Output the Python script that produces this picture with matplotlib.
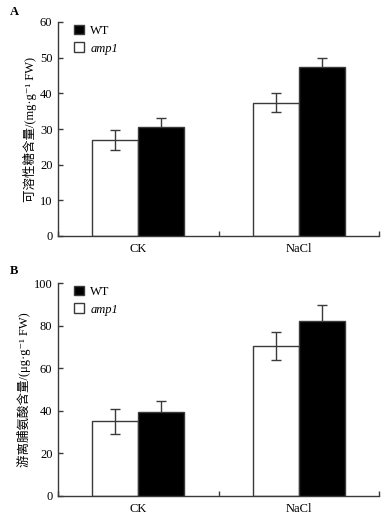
import matplotlib
matplotlib.use("Agg")
import matplotlib.pyplot as plt
from matplotlib.patches import Patch
import numpy as np

categories = ["CK", "NaCl"]
series = ["WT", "amp1"]

sugar_amp1 = [26.9, 37.4]
sugar_amp1_err = [2.7, 2.7]
sugar_wt = [30.7, 47.5]
sugar_wt_err = [2.3, 2.5]

pro_amp1 = [35.0, 70.5]
pro_amp1_err = [6.0, 6.7]
pro_wt = [39.3, 82.0]
pro_wt_err = [5.4, 7.5]

ylabel_a = "可溶性糖含量/(mg·g⁻¹ FW)"
ylabel_b = "游离脯氨酸含量/(μg·g⁻¹ FW)"

fam = ["Liberation Serif", "Noto Sans CJK SC", "DejaVu Sans"]
plt.rcParams["font.family"] = fam
plt.rcParams["font.size"] = 9

line_c = "#3a3a3a"

fig = plt.figure(figsize=(3.83, 5.17), dpi=100)
axA = fig.add_axes([58/383, 1-236/517, 321/383, 214/517])
axB = fig.add_axes([58/383, 1-496/517, 321/383, 213/517])

w = 0.287

def draw(ax, amp, amp_e, wt, wt_e, ymax, ystep, ylabel, tag):
    x = np.arange(len(categories)) + 0.5
    ax.bar(x - w/2, amp, w, color="white", edgecolor=line_c, linewidth=1.0, zorder=2)
    ax.errorbar(x - w/2, amp, yerr=amp_e, fmt="none", ecolor=line_c,
                elinewidth=1.0, capsize=3.5, capthick=1.0, zorder=2.5)
    ax.errorbar(x + w/2, wt, yerr=wt_e, fmt="none", ecolor=line_c,
                elinewidth=1.0, capsize=3.5, capthick=1.0, zorder=2.5)
    ax.bar(x + w/2, wt, w, color="black", edgecolor=line_c, linewidth=1.0, zorder=3)
    ax.set_xlim(0, 2)
    ax.set_ylim(0, ymax)
    ax.set_yticks(np.arange(0, ymax + 0.1, ystep))
    ax.set_xticks(x)
    ax.set_xticklabels(categories)
    ax.set_xticks([0, 1, 2], minor=True)
    ax.tick_params(axis="x", which="major", length=0, pad=5, labelsize=9)
    ax.tick_params(axis="x", which="minor", direction="in", length=3.5, width=1.0, color=line_c)
    ax.tick_params(axis="y", direction="in", length=3.5, width=1.0, color=line_c, pad=4, labelsize=9)
    for s in ["top", "right"]:
        ax.spines[s].set_visible(False)
    for s in ["left", "bottom"]:
        ax.spines[s].set_color(line_c)
        ax.spines[s].set_linewidth(1.0)
    ax.set_ylabel(ylabel, fontsize=9, labelpad=2)
    handles = [Patch(facecolor="black", edgecolor=line_c, linewidth=1.0),
               Patch(facecolor="white", edgecolor=line_c, linewidth=1.0)]
    leg = ax.legend(handles, series, loc="upper left", bbox_to_anchor=(0.015, 1.04),
                    frameon=False, handlelength=0.8, handleheight=0.8,
                    handletextpad=0.5, labelspacing=0.45, fontsize=9)
    leg.get_texts()[1].set_fontstyle("italic")
    fig.text(10/383, 1 - tag[1]/517, tag[0], fontsize=9, fontweight="bold",
             ha="left", va="center")

draw(axA, sugar_amp1, sugar_amp1_err, sugar_wt, sugar_wt_err, 60, 10, ylabel_a, ("A", 12))
draw(axB, pro_amp1, pro_amp1_err, pro_wt, pro_wt_err, 100, 20, ylabel_b, ("B", 271))

fig.savefig("out.png", dpi=100)
